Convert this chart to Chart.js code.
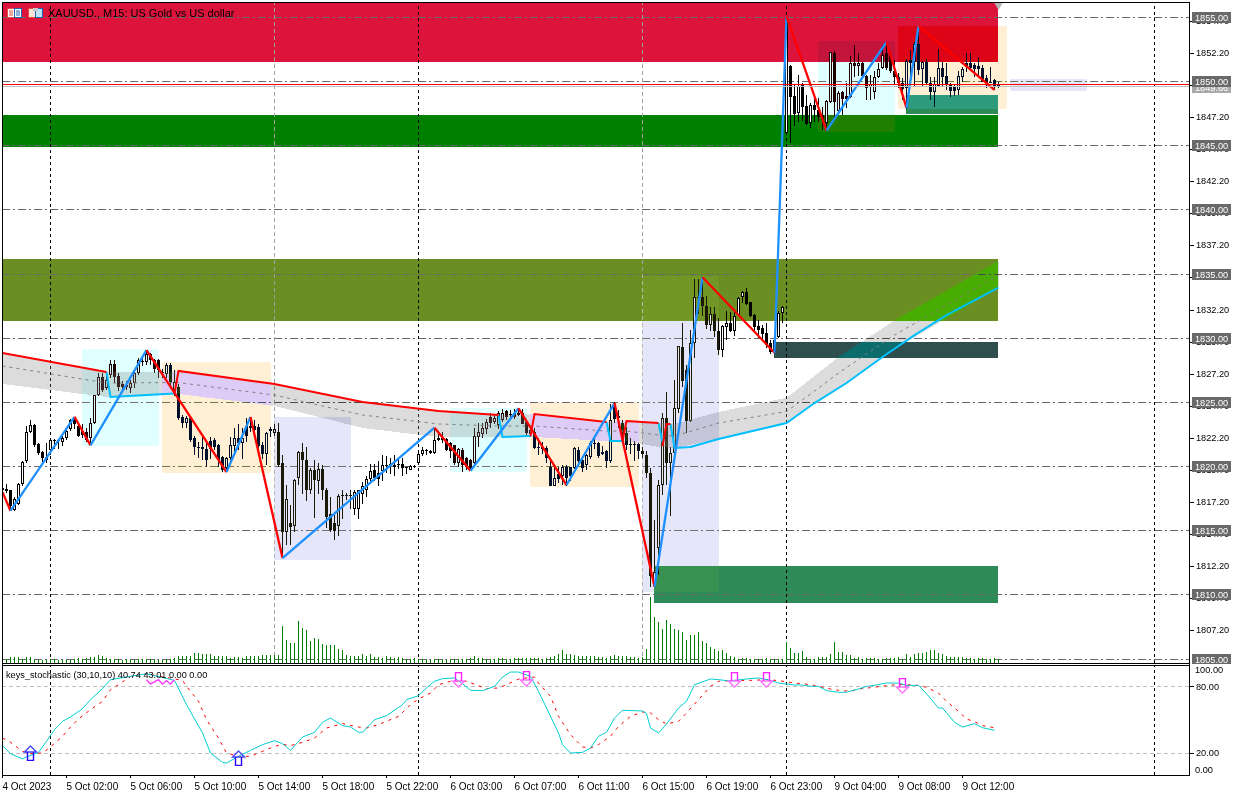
<!DOCTYPE html>
<html>
<head>
<meta charset="utf-8">
<script src="https://cdn.jsdelivr.net/npm/chart.js@4"></script>
<style>
html,body{margin:0;padding:0;background:#fff;overflow:hidden}
canvas{position:absolute;left:0;display:block}
#main{top:0}
#stoch{top:664px}
svg{position:absolute;top:8px}
</style>
</head>
<body>
<canvas id="main" width="1239" height="664"></canvas>
<canvas id="stoch" width="1239" height="129"></canvas>
<svg style="left:7px" width="16" height="10"><rect x="0.5" y="0.5" width="7" height="9" fill="#fff" stroke="#e04a3a"/><rect x="7.5" y="0.5" width="7" height="9" fill="#fff" stroke="#1a66b0"/><path d="M2 3h4M2 5h4M2 7h4" stroke="#e04a3a"/><path d="M9 3h4M9 5h4M9 7h4" stroke="#1a66b0"/></svg>
<svg style="left:28px" width="16" height="10"><rect x="0.5" y="0.5" width="7" height="9" fill="#fbe3d8" stroke="#e04a3a"/><rect x="7.5" y="0.5" width="7" height="9" fill="#bfe3f7" stroke="#1a66b0"/><rect x="5" y="0" width="5" height="3" fill="#c8c8c8"/></svg>
<script>
// ---------- chart identity ----------
const symbolTitle = "XAUUSD., M15: US Gold vs US dollar";
const stochTitle = "keys_stochastic (30,10,10) 40.74 43.01 0.00 0.00";

// ---------- candles (bar 0 .. 249) ----------
const candleOpen = [
1818.3,1818.29,1818.16,1816.6,1817.12,1818.63,1820.45,1822.71,1823.23,1821.75,
1821.15,1820.76,1821.33,1822.0,1822.07,1821.93,1822.2,1822.9,1823.75,1823.2,
1822.8,1822.7,1822.2,1823.36,1825.57,1826.95,1826.09,1827.13,1827.99,1827.05,
1826.4,1826.2,1826.09,1826.48,1827.26,1828.25,1828.17,1828.77,1828.3,1828.3,
1827.4,1827.2,1827.95,1826.0,1826.2,1823.9,1823.36,1823.75,1822.2,1821.55,
1821.5,1821.4,1822.0,1822.1,1821.65,1820.75,1819.85,1820.7,1821.6,1822.2,
1821.85,1823.2,1823.2,1823.15,1823.05,1821.65,1820.95,1822.75,1822.65,1822.7,
1820.25,1814.9,1815.6,1815.4,1819.1,1821.15,1820.55,1818.15,1819.7,1818.9,
1819.8,1818.2,1816.3,1815.6,1815.4,1817.75,1817.7,1817.8,1816.7,1816.7,
1817.83,1818.2,1819.0,1819.7,1819.5,1819.63,1820.1,1820.1,1820.1,1820.2,
1820.2,1819.9,1819.75,1819.95,1820.25,1821.0,1821.25,1821.2,1821.05,1822.1,
1822.2,1822.15,1821.8,1821.65,1820.3,1821.3,1820.65,1820.55,1820.3,1822.3,
1822.55,1822.95,1823.85,1823.45,1823.25,1823.6,1824.3,1824.05,1824.2,1824.05,
1824.2,1823.5,1822.5,1822.7,1821.55,1821.5,1821.45,1820.0,1818.5,1819.4,
1819.25,1819.95,1819.95,1819.9,1821.3,1820.5,1820.15,1820.75,1821.75,1821.85,
1821.1,1821.2,1820.4,1824.8,1823.95,1823.4,1822.6,1821.7,1821.7,1821.75,
1821.2,1820.9,1819.47,1810.7,1813.65,1818.56,1823.78,1820.27,1821.05,1824.48,
1829.31,1827.52,1823.55,1829.63,1833.2,1833.21,1832.51,1831.03,1831.89,1830.56,
1829.08,1830.88,1831.19,1830.56,1831.81,1833.21,1833.6,1832.82,1831.81,1830.95,
1830.8,1830.4,1829.63,1828.93,1830.1,1831.97,1846.0,1851.22,1848.88,1847.53,
1849.74,1848.1,1846.75,1848.18,1847.79,1847.4,1846.75,1848.44,1852.26,1847.74,
1849.2,1848.85,1848.83,1851.48,1851.22,1851.48,1850.44,1849.56,1849.2,1850.39,
1851.03,1852.2,1852.07,1850.8,1850.4,1849.87,1849.48,1851.7,1851.55,1852.93,
1850.96,1851.5,1849.87,1849.22,1849.66,1851.04,1850.44,1849.82,1849.56,1849.35,
1850.39,1851.43,1851.43,1851.3,1851.22,1851.04,1850.25,1850.0,1850.1,1849.82];
const candleHigh = [
1818.4,1818.68,1818.2,1817.6,1818.75,1820.4,1823.15,1823.62,1823.3,1821.8,
1821.2,1821.8,1822.14,1822.15,1822.13,1822.5,1822.85,1823.7,1823.9,1823.4,
1823.3,1823.0,1823.75,1825.6,1827.26,1827.26,1827.39,1828.3,1828.3,1827.3,
1826.7,1826.7,1826.74,1827.45,1828.5,1828.6,1829.08,1828.85,1828.4,1828.4,
1827.6,1828.05,1828.05,1827.5,1826.4,1824.0,1823.95,1823.9,1822.35,1821.95,
1822.3,1822.0,1822.3,1822.25,1821.75,1820.85,1820.75,1822.3,1823.0,1823.3,
1823.0,1823.75,1823.8,1823.6,1823.3,1821.9,1822.7,1823.1,1823.35,1823.4,
1820.9,1818.6,1817.0,1819.0,1821.2,1821.8,1821.5,1819.9,1820.5,1820.3,
1820.1,1818.3,1817.6,1816.2,1817.9,1818.2,1817.95,1818.2,1818.15,1818.2,
1818.8,1819.3,1820.2,1820.2,1820.4,1820.9,1820.85,1820.7,1820.9,1820.7,
1820.7,1820.0,1820.1,1820.15,1821.05,1821.55,1821.35,1821.3,1823.0,1822.75,
1822.7,1822.2,1821.9,1821.7,1821.45,1821.45,1820.75,1820.6,1823.0,1823.4,
1823.4,1823.7,1824.2,1824.1,1824.3,1824.5,1824.4,1824.4,1824.45,1824.55,
1824.5,1823.6,1823.1,1823.0,1822.2,1821.9,1821.6,1820.7,1820.1,1820.0,
1820.15,1820.15,1820.0,1821.5,1821.5,1820.65,1821.0,1822.0,1822.2,1821.9,
1821.6,1821.3,1824.9,1825.05,1824.4,1823.6,1823.1,1822.2,1822.0,1821.8,
1821.5,1821.2,1819.9,1815.83,1818.95,1824.2,1825.8,1821.5,1826.75,1829.39,
1831.2,1827.9,1830.64,1834.61,1834.6,1834.75,1833.3,1832.43,1832.43,1831.6,
1831.03,1832.12,1832.05,1832.2,1833.2,1833.65,1833.92,1832.85,1831.9,1831.43,
1831.03,1831.2,1829.86,1830.17,1832.12,1832.48,1855.11,1851.3,1849.74,1850.52,
1849.87,1848.96,1848.3,1849.0,1848.7,1848.0,1848.57,1852.33,1852.4,1849.3,
1849.3,1849.87,1852.0,1852.86,1852.26,1851.55,1850.5,1850.52,1850.8,1851.43,
1852.86,1853.05,1852.3,1851.7,1850.7,1850.3,1851.74,1852.5,1853.1,1854.29,
1851.6,1851.8,1850.4,1850.4,1852.52,1851.55,1851.43,1849.87,1849.82,1850.85,
1851.17,1852.2,1852.2,1851.48,1851.95,1851.3,1850.52,1851.17,1850.18,1850.0];
const candleLow = [
1817.9,1817.95,1816.6,1816.55,1817.0,1818.5,1820.3,1822.58,1821.54,1820.89,
1820.37,1820.3,1820.9,1821.35,1821.35,1821.6,1822.1,1822.8,1822.9,1822.3,
1822.2,1821.9,1821.65,1823.3,1825.5,1825.83,1825.96,1826.9,1826.48,1825.9,
1825.96,1826.0,1825.7,1826.1,1827.1,1827.85,1827.9,1827.9,1827.3,1826.9,
1826.9,1826.9,1826.2,1825.5,1823.6,1823.0,1823.0,1821.95,1820.9,1820.65,
1820.5,1820.0,1820.6,1821.3,1820.0,1819.6,1819.6,1820.4,1820.9,1821.3,
1820.6,1821.9,1822.7,1822.5,1821.4,1820.6,1820.1,1822.3,1822.35,1820.0,
1813.0,1813.9,1813.9,1814.9,1818.6,1817.9,1817.3,1817.9,1816.0,1817.9,
1817.4,1815.2,1814.9,1814.3,1814.6,1815.9,1817.4,1816.7,1816.2,1815.9,
1817.05,1817.6,1818.9,1818.9,1818.5,1818.9,1819.5,1819.4,1819.3,1819.8,
1819.3,1819.4,1819.7,1819.9,1820.15,1820.85,1820.9,1821.0,1820.95,1822.0,
1821.8,1821.2,1820.7,1820.15,1820.0,1819.6,1819.7,1819.65,1820.2,1821.5,
1822.2,1822.5,1823.0,1823.3,1822.9,1823.5,1823.6,1823.7,1823.7,1823.95,
1823.3,1822.4,1822.3,1821.4,1820.9,1821.0,1820.3,1818.45,1818.45,1818.7,
1818.6,1818.5,1818.9,1819.8,1820.2,1819.6,1819.7,1820.6,1821.4,1820.7,
1820.9,1819.9,1820.3,1823.4,1823.0,1821.9,1821.3,1821.0,1820.4,1820.6,
1820.7,1819.1,1810.65,1810.63,1811.55,1817.8,1818.56,1816.15,1820.9,1824.2,
1826.2,1822.61,1823.5,1828.46,1831.9,1831.75,1830.72,1830.56,1830.1,1828.7,
1828.54,1829.86,1830.5,1830.17,1831.73,1832.75,1832.6,1831.65,1830.56,1830.02,
1829.86,1829.24,1828.77,1828.87,1830.0,1831.2,1845.9,1845.19,1846.54,1846.88,
1846.96,1846.6,1846.36,1846.88,1846.88,1846.23,1846.18,1848.3,1847.27,1847.53,
1847.4,1847.92,1848.7,1850.4,1850.44,1850.3,1848.57,1848.57,1848.62,1850.25,
1851.0,1850.9,1850.7,1849.74,1849.5,1848.57,1847.9,1849.6,1849.6,1850.52,
1849.6,1849.74,1848.57,1848.0,1849.56,1849.56,1849.35,1848.83,1848.88,1848.96,
1849.99,1850.78,1850.9,1850.4,1850.52,1849.99,1849.5,1849.87,1849.35,1849.5];
const candleClose = [
1818.2,1818.11,1816.94,1817.51,1818.68,1820.37,1822.71,1823.23,1821.67,1821.02,
1820.63,1820.55,1822.06,1822.1,1821.97,1822.2,1822.79,1823.62,1823.31,1822.37,
1822.45,1822.1,1823.36,1825.57,1827.0,1825.96,1826.74,1827.99,1827.0,1826.22,
1826.2,1826.35,1826.48,1827.26,1828.3,1828.15,1828.77,1828.3,1827.6,1827.5,
1827.3,1827.95,1826.6,1826.6,1823.75,1823.36,1823.8,1822.06,1821.49,1821.45,
1821.4,1820.55,1821.4,1821.55,1820.5,1819.7,1820.7,1821.65,1822.25,1821.8,
1822.2,1822.35,1823.0,1822.85,1821.6,1820.95,1822.6,1822.9,1822.9,1820.1,
1814.9,1817.45,1815.3,1818.95,1821.15,1820.5,1818.15,1819.7,1818.95,1819.8,
1818.15,1816.1,1815.05,1815.0,1817.7,1817.7,1817.8,1817.7,1818.0,1818.15,
1818.47,1819.0,1819.63,1819.1,1819.0,1820.15,1820.05,1820.2,1820.0,1820.15,
1819.9,1819.85,1820.05,1820.05,1821.0,1821.3,1821.2,1821.05,1822.1,1822.2,
1822.1,1821.3,1821.2,1820.3,1821.35,1820.15,1820.0,1819.8,1822.4,1822.7,
1823.0,1823.45,1823.4,1823.8,1824.15,1824.2,1823.85,1824.0,1823.9,1824.2,
1823.35,1822.6,1822.85,1821.45,1821.45,1821.4,1820.65,1818.5,1819.1,1819.0,
1819.95,1819.1,1819.25,1821.45,1820.4,1819.9,1820.9,1821.85,1821.85,1820.8,
1821.0,1820.4,1823.6,1823.7,1823.75,1822.5,1821.7,1821.65,1821.65,1821.2,
1820.95,1819.47,1811.5,1811.8,1818.56,1823.78,1820.27,1821.05,1824.57,1829.39,
1826.67,1823.55,1829.63,1833.21,1833.1,1832.51,1831.03,1831.89,1830.56,1829.08,
1830.95,1831.19,1830.56,1831.73,1833.13,1833.6,1832.67,1831.73,1830.87,1830.64,
1830.33,1829.47,1828.93,1829.86,1831.97,1832.43,1855.0,1848.83,1847.48,1849.66,
1848.0,1846.7,1848.18,1847.79,1847.22,1847.0,1848.51,1852.33,1848.44,1849.14,
1848.67,1848.67,1851.48,1851.22,1851.43,1850.44,1849.48,1849.82,1850.39,1850.96,
1852.07,1851.03,1850.8,1850.34,1849.9,1849.4,1851.61,1851.48,1852.93,1850.9,
1851.5,1849.92,1849.22,1849.82,1851.04,1850.39,1849.74,1849.3,1849.3,1850.44,
1850.96,1851.17,1851.04,1851.0,1850.96,1850.0,1849.92,1849.87,1849.66,1849.6];

// ---------- tick volume ----------
const tickVolume = [
4,4,6,6,6,4,6,6,4,3,3,3,4,4,3,3,3,3,4,5,
4,5,6,6,8,7,5,4,4,4,3,4,4,3,4,4,4,4,4,3,
3,4,4,5,7,7,7,7,10,10,9,9,9,7,7,7,7,5,6,6,
5,7,7,7,7,8,8,8,8,8,37,23,20,20,42,35,33,22,25,24,
19,18,18,18,14,13,8,7,7,7,9,7,9,6,6,5,7,6,5,6,
5,4,4,5,4,4,4,3,4,4,4,3,4,4,4,4,4,5,7,5,
5,4,4,4,5,5,4,4,5,5,5,5,5,5,5,4,5,6,7,9,
13,9,9,8,7,7,7,7,7,6,6,5,7,8,7,7,7,6,6,5,
6,14,66,46,41,34,43,39,34,33,31,23,28,28,31,22,20,16,14,12,
13,10,7,6,4,5,5,4,4,4,4,5,4,4,4,4,21,15,10,10,
12,6,4,4,6,6,6,9,21,11,11,8,8,5,6,4,5,5,5,4,
4,5,5,5,6,4,9,6,9,10,10,11,13,13,10,9,7,6,6,6,
6,5,5,4,5,5,4,4,5,4];

// ---------- ZigZag ----------
const zigzagBars = [0,2,18,22,36,56,62,70,108,117,129,141,153,163,175,193,196,206,221,226,229,248];
const zigzagPrices = [1818.01,1816.56,1823.88,1821.65,1829.08,1819.57,1823.86,1812.87,1823.03,1819.67,1824.54,1818.56,1824.95,1810.63,1834.75,1828.87,1855.11,1846.18,1853.09,1847.95,1854.34,1849.35];

// ---------- moving-average band ----------
const ribbonBars = [0,26,43,44,68,90,109,124,133,151,156,164,168,179,196,203,209,223,249];
const ribbonUpper = [1828.85,1827.37,1827.41,1827.45,1826.43,1825.03,1824.33,1824.02,1824.09,1823.47,1823.55,1823.39,1823.32,1824.25,1825.36,1827.05,1828.54,1831.38,1836.02];
const ribbonLower = [1826.43,1825.42,1825.69,1825.65,1824.72,1823.0,1822.30,1822.30,1822.30,1821.99,1821.99,1821.52,1821.45,1822.15,1823.39,1824.95,1826.12,1829.16,1833.94];
const ribbonMiddle = [1827.84,1826.51,1826.55,1826.55,1825.57,1824.02,1823.32,1823.16,1823.16,1822.77,1822.77,1822.46,1822.38,1823.39,1824.29,1825.88,1827.29,1830.25,1834.93];

// band trend line: null separates the pieces
const redBandBars = [0,26,null,43,44,68,90,109,124,null,132,133,151,null,155,156,164,null,165,166,167];
const redBandPrices = [1828.85,1827.37,null,1825.69,1827.45,1826.43,1825.03,1824.33,1824.02,null,1822.38,1824.09,1823.47,null,1821.99,1823.55,1823.39,null,1821.6,1823.32,1823.32];
const blueBandBars = [26,27,43,null,124,125,132,null,151,152,155,null,164,165,null,167,168,172,179,196,203,211,220,228,236,249];
const blueBandPrices = [1827.37,1825.42,1825.69,null,1824.02,1822.30,1822.38,null,1823.47,1821.99,1821.99,null,1823.39,1821.9,null,1823.32,1821.45,1821.52,1822.15,1823.39,1824.95,1826.51,1828.54,1830.25,1831.81,1833.94];

// ---------- rectangles: first bar, last bar, top price, bottom price, colour ----------
const solidStart  = [0,0,0,163,193,226];
const solidEnd    = [248.9,248.9,248.9,248.9,248.9,248.9];
const solidTop    = [1856.13,1847.40,1836.17,1812.24,1829.70,1848.96];
const solidBottom = [1851.53,1844.94,1831.34,1809.36,1828.46,1847.47];
const solidColor  = ["#dc143c","#008000","#6b8e23","#2e8b57","#2f4f4f","#2e8b57"];

const boxStart  = [20,40,68,112,132,160,204,224,252];
const boxEnd    = [39,67,87,131,159,179,223,251,271];
const boxTop    = [1829.13,1828.12,1823.84,1824.56,1824.97,1834.85,1853.19,1854.34,1850.20];
const boxBottom = [1821.60,1819.52,1812.72,1819.60,1818.43,1810.24,1846.10,1847.89,1849.29];
const boxColor  = ["#e0ffff","#ffefd5","#e6e6fa","#e0ffff","#ffefd5","#e6e6fa","#e0ffff","#ffefd5","#e6e6fa"];
const ribbonColor = "#dcdcdc";

// ---------- level lines, period separators, axis ticks ----------
const levelPrices = [1855,1850,1845,1840,1835,1830,1825,1820,1815,1810,1805];
const separatorBars = [12,104,196,288];
const markerBars = [68,160];
const priceTicks = [1807.2,1809.7,1812.2,1814.7,1817.2,1819.7,1822.2,1824.7,1827.2,1829.7,1832.2,1834.7,1837.2,1839.7,1842.2,1844.7,1847.2,1849.7,1852.2,1854.7];
const bidPrice = 1849.76;
const askPrice = 1849.66;
const timeTickBars = [0,16,32,48,64,80,96,112,128,144,160,176,192,208,224,240];
const timeTickLabels = ["4 Oct 2023","5 Oct 02:00","5 Oct 06:00","5 Oct 10:00","5 Oct 14:00","5 Oct 18:00","5 Oct 22:00","6 Oct 03:00","6 Oct 07:00","6 Oct 11:00","6 Oct 15:00","6 Oct 19:00","6 Oct 23:00","9 Oct 04:00","9 Oct 08:00","9 Oct 12:00"];

// ---------- stochastic ----------
const stochBars = [0,2,5,6,9,11,13,15,17,20,22,25,27,32,36,43,46,50,52,55,56,59,62,65,68,70,72,75,78,80,82,85,87,89,90,93,96,
100,101,104,106,108,110,113,115,117,120,123,125,127,129,132,134,136,139,140,142,145,147,149,151,153,155,160,161,162,164,166,169,171,173,177,179,181,183,186,189,192,194,198,
200,202,204,206,209,211,214,216,218,221,224,226,229,231,234,235,238,240,243,245,248];
const stochMain = [26.7,19.4,14.6,16.4,20.6,30.6,41.2,48.8,52.7,60.3,68.5,78.5,86.7,89.7,92,86,63.9,38.2,20,11.5,10.9,17,22.4,27.6,31.2,28.5,22.4,34.5,38.8,47.9,51.8,44.9,43.6,38.8,38.8,50.3,53.9,
63.9,68.5,72.1,79.1,85.2,87.6,88.2,83,77,76.7,80.6,89.1,93.6,93.6,89.7,76.1,60.9,38.2,27.6,20,20.6,24.5,35.2,38.8,51.8,58.8,58.2,55.8,42.7,38.2,46.4,60.9,67,82.1,87.3,86.7,85.8,86,87.3,88.2,86,83.6,81.8,
81.8,80.6,80.6,76.7,75.2,75.2,78.2,80.6,81.5,83.6,83.6,81.5,81.5,73.9,60.9,60.9,47.9,43.6,46.7,43,40.74];
const signalBars = [0,2,5,7,10,12,15,17,19,22,25,27,29,32,36,45,46,49,51,54,56,59,62,65,68,70,72,75,78,81,85,89,91,94,99,
102,104,107,109,112,116,119,121,124,126,129,133,134,137,139,142,145,147,149,152,154,157,160,162,164,166,169,171,174,177,179,183,187,191,194,198,
200,202,204,207,209,212,214,217,221,224,229,231,234,236,239,241,243,245,248];
const signalLine = [33.6,29.7,21.5,19.4,20,25.5,35.2,43.6,50.9,59.4,67,77.6,82.1,89.7,92,86,80.6,67,50.3,33.6,20,17,17,21.5,26,27.9,26.7,29.7,33.6,42.7,46.7,43.6,42.7,45.8,53.3,
63.9,69.1,74.5,82.1,85.2,85.2,81.2,78.5,79.1,82.1,87.3,89.1,83.6,71.5,53.3,36.7,25.5,24.5,27.6,35.2,44.2,53.3,57.3,56.4,50.3,46.4,48.8,56.4,68.5,80.6,85.2,86,86,86.7,85.8,83.6,
83,82.1,80.6,78.2,77,76.1,78.2,79.4,81.2,82.4,81.5,79.7,74.5,67,57.9,50.9,48.5,44.9,43.01];
const stochTicks = [20,80];
const extraStochLabels = ["100.00","0.00"];
const buyBars = [7,59];
const buyValues = [20,15.45];
const sellBars = [114,131,183,191,225];
const sellValues = [86.36,87.27,86.36,86.36,80.91];
const zigBars = [36,37,39,40,41,42,43];
const zigValues = [86.7,82.7,86.7,82.7,85.7,82.7,86.7];

// ---------- helpers ----------
const FAMILY = "Liberation Sans";
const AXIS_SIZE = 9.2;
const FONT = AXIS_SIZE + "px '" + FAMILY + "'";
const toPoints = (xs, ys) => xs.map((x, k) => ({x: x === null ? NaN : x, y: ys[k]}));
const constPoints = (xs, y) => xs.map(x => ({x, y}));
const hex = c => [1,3,5].map(k => parseInt(c.substr(k,2),16));
const mask = document.createElement('canvas');
mask.width = 1239; mask.height = 793;
const mctx = mask.getContext('2d', {willReadFrequently:true});

// Terminal rectangles combine with what is below them by bit inversion;
// bars and level lines are snapped to whole pixel rows like the terminal's own drawing.
const xorFill = {
  id:'xorFill',
  beforeDatasetDraw(chart, args){
    const ds = chart.data.datasets[args.index];
    if (ds.type==='bar'){
      args.meta.data.forEach(el=>{
        el.y=Math.round(el.y);el.base=Math.round(el.base);
        if(el.y===el.base) el.y=el.base-1;
      });
      return;
    }
    if (ds.snapRow){
      args.meta.data.forEach(p=>{p.y=Math.floor(p.y)+.5;});
      return;
    }
    if (!ds.xorColor) return;
    const pts = args.meta.data, a = chart.chartArea, ctx = chart.ctx;
    let x0=1e9,x1=-1e9,y0=1e9,y1=-1e9;
    mctx.clearRect(0,0,1239,793);
    mctx.beginPath();
    pts.forEach((p,k)=>{
      k?mctx.lineTo(p.x,p.y):mctx.moveTo(p.x,p.y);
      x0=Math.min(x0,p.x);x1=Math.max(x1,p.x);y0=Math.min(y0,p.y);y1=Math.max(y1,p.y);
    });
    mctx.closePath(); mctx.fillStyle='#000'; mctx.fill();
    x0=Math.max(Math.floor(x0),Math.ceil(a.left)+1);x1=Math.min(Math.ceil(x1),Math.floor(a.right)-1);
    y0=Math.max(Math.floor(y0),Math.ceil(a.top));y1=Math.min(Math.ceil(y1),Math.floor(a.bottom));
    const w=x1-x0,h=y1-y0; if(w<=0||h<=0) return false;
    const img=ctx.getImageData(x0,y0,w,h), m=mctx.getImageData(x0,y0,w,h).data, d=img.data;
    const c=hex(ds.xorColor);
    for(let i=0;i<d.length;i+=4){ if(m[i+3]>=128){ d[i]^=255^c[0]; d[i+1]^=255^c[1]; d[i+2]^=255^c[2]; } }
    ctx.putImageData(img,x0,y0);
    return false;
  }
};

const whiteBack = {id:'whiteBack',beforeDraw(c){const x=c.ctx;x.save();x.fillStyle='#fff';x.fillRect(0,0,c.width,c.height);x.restore();}};

function frameLines(ctx, top, bottom){
  ctx.save();ctx.strokeStyle='#000';ctx.lineWidth=1;ctx.setLineDash([]);ctx.beginPath();
  ctx.moveTo(2,top+.5);ctx.lineTo(1190,top+.5);
  ctx.moveTo(2.5,top);ctx.lineTo(2.5,bottom+1);
  ctx.moveTo(1189.5,top);ctx.lineTo(1189.5,bottom+1);
  ctx.moveTo(2,bottom+.5);ctx.lineTo(1190,bottom+.5);
  ctx.stroke();ctx.restore();
}
function priceTag(ctx, y, text, color){
  const top=Math.round(y-5.5);
  ctx.fillStyle=color;ctx.fillRect(1192,top,39,11);
  ctx.fillStyle='#fff';ctx.textAlign='left';ctx.textBaseline='middle';ctx.font=FONT;
  ctx.fillText(text,1195,top+6);
}
const mainOverlay = {
  id:'mainOverlay',
  afterDraw(c){
    const ctx=c.ctx,y=c.scales.y;
    frameLines(ctx,2,663);
    ctx.save();
    priceTag(ctx,y.getPixelForValue(askPrice)+1,askPrice.toFixed(2),'#a9a9a9');
    levelPrices.forEach(p=>priceTag(ctx,y.getPixelForValue(p),p.toFixed(2),'#696969'));
    ctx.fillStyle='#000';ctx.font="11px '"+FAMILY+"'";ctx.textAlign='left';ctx.textBaseline='middle';
    ctx.fillText(symbolTitle,48,14);
    ctx.restore();
  }
};
const stochOverlay = {
  id:'stochOverlay',
  afterDraw(c){
    const ctx=c.ctx;
    ctx.save();
    ctx.strokeStyle='#000';ctx.beginPath();
    ctx.moveTo(2.5,0);ctx.lineTo(2.5,111.5);ctx.moveTo(1189.5,0);ctx.lineTo(1189.5,111.5);
    ctx.moveTo(2,1.5);ctx.lineTo(1190,1.5);ctx.moveTo(2,111.5);ctx.lineTo(1190,111.5);ctx.stroke();
    ctx.fillStyle='#000';ctx.font=FONT;ctx.textAlign='left';ctx.textBaseline='middle';
    ctx.fillText(stochTitle,6,11);
    ctx.fillText(extraStochLabels[0],1195,6);
    ctx.fillText(extraStochLabels[1],1195,106);
    ctx.restore();
  }
};

function arrow(up, stroke, head){
  const s=document.createElement('canvas');s.width=15;s.height=16;
  const g=s.getContext('2d');
  g.translate(0,up?0:16);if(!up)g.scale(1,-1);
  g.lineWidth=1.4;g.strokeStyle=head;
  g.beginPath();g.moveTo(7.5,1);g.lineTo(13.5,7);g.lineTo(1.5,7);g.closePath();g.stroke();
  g.lineWidth=1.4;g.strokeStyle=stroke;
  g.beginPath();g.moveTo(4.5,7);g.lineTo(4.5,15.5);g.lineTo(10.5,15.5);g.lineTo(10.5,7);g.stroke();
  return s;
}

function xorDataset(points, color, order){
  return {type:'line',data:points,xorColor:color,order,pointRadius:0,borderWidth:0,fill:false,label:'zone'};
}
function rectPoints(x0,x1,top,bottom){
  return [{x:x0,y:top},{x:x1,y:top},{x:x1,y:bottom},{x:x0,y:bottom}];
}
function vLine(x,y0,y1,color,dash,order){
  return {type:'line',data:[{x,y:y0},{x,y:y1}],borderColor:color,borderWidth:1,borderDash:dash,pointRadius:0,order};
}

const X_MIN=-0.125,X_MAX=296.875,Y_MAX=1856.13,Y_MIN=1804.69;
const ds=[];
solidStart.forEach((s,k)=>ds.push(xorDataset(rectPoints(s,solidEnd[k],solidTop[k],solidBottom[k]),solidColor[k],100)));
levelPrices.forEach(p=>ds.push({type:'line',data:constPoints([X_MIN,X_MAX],p),snapRow:true,borderColor:'#696969',borderWidth:1,borderDash:[8,3,2,3],pointRadius:0,order:90}));
separatorBars.forEach(b=>ds.push(vLine(b,Y_MIN,Y_MAX,'#000',[3,3],85)));
markerBars.forEach(b=>ds.push(vLine(b,Y_MIN,Y_MAX,'#a0a0a0',[4,3],85)));
ds.push({type:'bar',yAxisID:'y2',data:toPoints(tickVolume.map((_,i)=>i),tickVolume),backgroundColor:'#008000',barThickness:1,grouped:false,order:80,inflateAmount:0});
const idx=candleOpen.map((_,i)=>i);
ds.push({type:'bar',data:idx.map(i=>({x:i,y:[candleLow[i],candleHigh[i]]})),backgroundColor:'#000',barThickness:1,grouped:false,inflateAmount:0,order:70});
ds.push({type:'bar',data:idx.map(i=>({x:i,y:[Math.min(candleOpen[i],candleClose[i]),Math.max(candleOpen[i],candleClose[i])]})),
  backgroundColor:idx.map(i=>candleClose[i]>=candleOpen[i]?'#fff':'#000'),borderColor:'#000',borderWidth:1,borderSkipped:false,barThickness:3,grouped:false,inflateAmount:0,order:69});
boxStart.forEach((s,k)=>ds.push(xorDataset(rectPoints(s,boxEnd[k],boxTop[k],boxBottom[k]),boxColor[k],60)));
ds.push(xorDataset(toPoints(ribbonBars,ribbonUpper).concat(toPoints(ribbonBars,ribbonLower).reverse()),ribbonColor,60));
ds.push({type:'line',data:toPoints(ribbonBars,ribbonMiddle),borderColor:'#808080',borderWidth:1,borderDash:[3,4],pointRadius:0,order:50});
ds.push({type:'line',data:toPoints(redBandBars,redBandPrices),borderColor:'#ff0000',borderWidth:2,pointRadius:0,spanGaps:false,order:40});
ds.push({type:'line',data:toPoints(blueBandBars,blueBandPrices),borderColor:'#00bfff',borderWidth:2,pointRadius:0,spanGaps:false,order:40});
ds.push({type:'line',data:toPoints(zigzagBars,zigzagPrices),borderWidth:2.3,pointRadius:0,order:30,
  borderColor:'#1e90ff',segment:{borderColor:s=>s.p1.parsed.y>s.p0.parsed.y?'#1e90ff':'#ff0000'}});
ds.push({type:'line',data:constPoints([X_MIN,X_MAX],bidPrice),snapRow:true,borderColor:'#ff0000',borderWidth:1,pointRadius:0,order:20});
ds.push({type:'line',data:constPoints([X_MIN,X_MAX],askPrice),snapRow:true,borderColor:'#c0c0c0',borderWidth:1,pointRadius:0,order:21});
ds.push({type:'line',data:[{x:249,y:1855.97}],showLine:false,pointStyle:'triangle',pointRadius:5,rotation:180,pointBackgroundColor:'#b4b4b4',pointBorderWidth:0,order:10});

new Chart(document.getElementById('main'),{
  type:'line',
  data:{datasets:ds},
  plugins:[whiteBack,xorFill,mainOverlay],
  options:{
    responsive:false,animation:false,devicePixelRatio:1,
    layout:{autoPadding:false,padding:{left:2,top:3,bottom:1,right:0}},
    plugins:{legend:{display:false},tooltip:{enabled:false}},
    events:[],
    scales:{
      x:{type:'linear',display:false,min:X_MIN,max:X_MAX,offset:false,grid:{offset:false,display:false}},
      y:{type:'linear',position:'right',min:Y_MIN,max:Y_MAX,
        afterBuildTicks(s){s.ticks=priceTicks.map(value=>({value}));},
        afterFit(s){s.width=49;s.paddingTop=0;s.paddingBottom=0;},
        grid:{drawOnChartArea:false,drawTicks:true,tickLength:4,tickColor:'#000'},
        border:{display:false},
        ticks:{color:'#000',font:{family:FAMILY,size:AXIS_SIZE},padding:2,callback:v=>v.toFixed(2),autoSkip:false}},
      y2:{type:'linear',display:false,min:0,max:660}
    }
  }
});

const upImg=arrow(true,'#2a00ff','#4848ff');
const downImg=arrow(false,'#ff20ff','#ff70ff');
const sd=[];
separatorBars.forEach(b=>sd.push(vLine(b,0,100,'#000',[3,3],50)));
sd.push({type:'line',data:toPoints(signalBars,signalLine),borderColor:'#ff0000',borderWidth:1,borderDash:[3,5],pointRadius:0,order:20});
sd.push({type:'line',data:toPoints(stochBars,stochMain),borderColor:'#00ced1',borderWidth:1,pointRadius:0,order:15});
sd.push({type:'line',data:toPoints(zigBars,zigValues),borderColor:'#ff40ff',borderWidth:1.5,pointRadius:0,order:12});
sd.push({type:'line',data:toPoints(buyBars,buyValues),showLine:false,pointStyle:upImg,pointRadius:8,order:10});
sd.push({type:'line',data:toPoints(sellBars,sellValues),showLine:false,pointStyle:downImg,pointRadius:8,order:10});

new Chart(document.getElementById('stoch'),{
  type:'line',
  data:{datasets:sd},
  plugins:[whiteBack,stochOverlay],
  options:{
    responsive:false,animation:false,devicePixelRatio:1,
    layout:{autoPadding:false,padding:{left:2,top:1,bottom:0,right:0}},
    plugins:{legend:{display:false},tooltip:{enabled:false}},
    events:[],
    scales:{
      x:{type:'linear',position:'bottom',min:X_MIN,max:X_MAX,offset:false,
        afterBuildTicks(s){s.ticks=timeTickBars.map(value=>({value}));},
        afterFit(s){s.height=18;s.paddingLeft=0;s.paddingRight=0;},
        grid:{drawOnChartArea:false,drawTicks:true,tickLength:3,tickColor:'#000'},
        border:{display:false},
        ticks:{color:'#000',font:{family:FAMILY,size:10},align:'start',maxRotation:0,autoSkip:false,padding:3,
          callback:v=>timeTickLabels[timeTickBars.indexOf(v)]||''}},
      y:{type:'linear',position:'right',min:0,max:100,
        afterBuildTicks(s){s.ticks=stochTicks.map(value=>({value}));},
        afterFit(s){s.width=49;s.paddingTop=0;s.paddingBottom=0;},
        grid:{color:'#c0c0c0',tickColor:'#000',tickLength:4,tickBorderDash:[]},
        border:{display:false,dash:[4,3]},
        ticks:{color:'#000',font:{family:FAMILY,size:AXIS_SIZE},padding:2,callback:v=>v.toFixed(2),autoSkip:false}}
    }
  }
});
</script>
</body>
</html>
